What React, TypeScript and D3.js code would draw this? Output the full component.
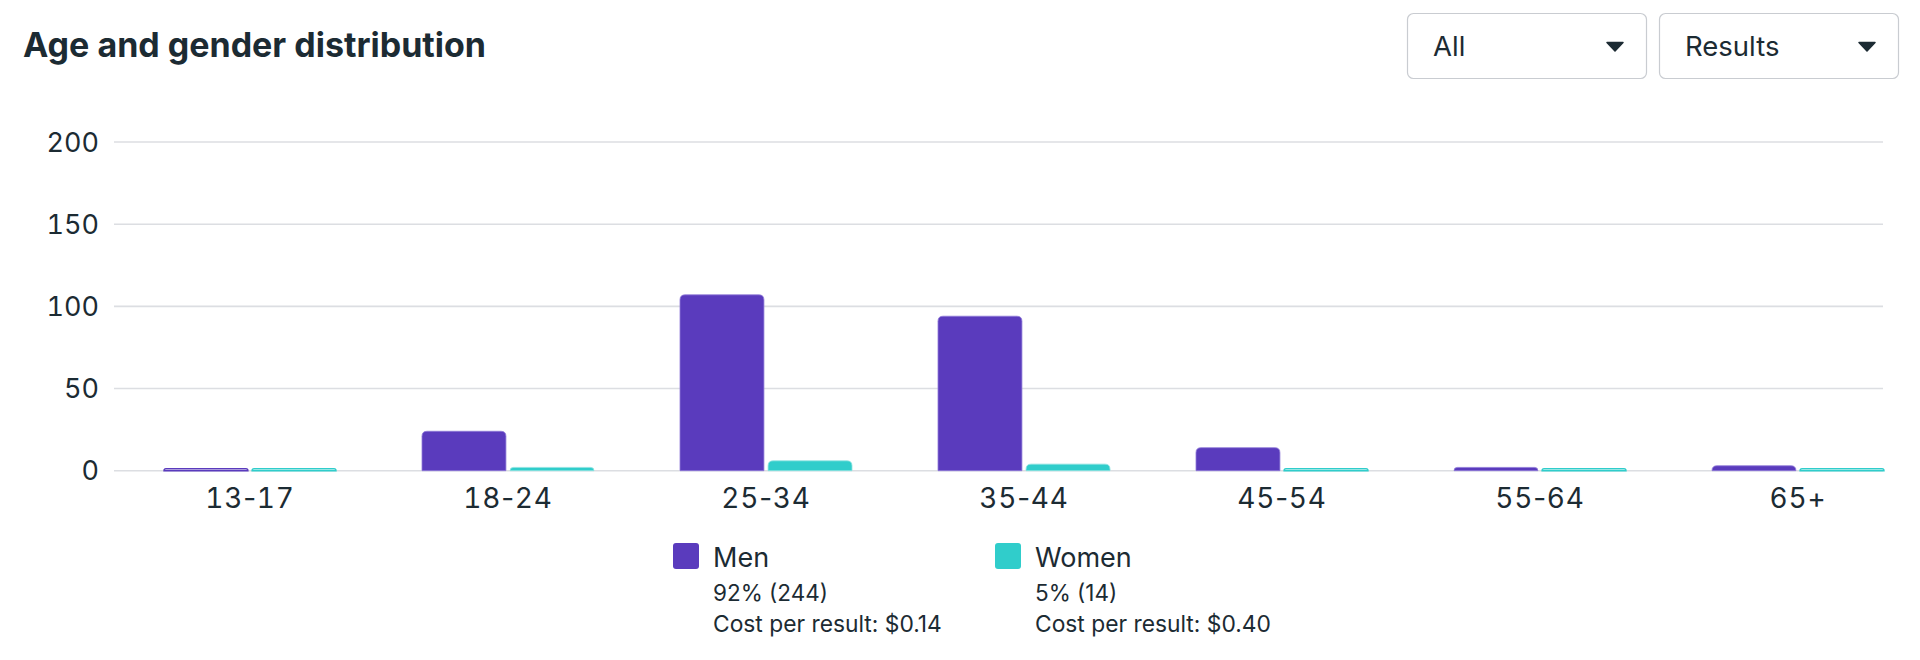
import * as d3 from "d3";

const ageGroups = ["13-17", "18-24", "25-34", "35-44", "45-54", "55-64", "65+"];
const menValues = [0, 24, 107, 94, 14, 2, 3];
const womenValues = [0, 2, 6, 4, 0, 0, 0];
const yTicks = [0, 50, 100, 150, 200];
const seriesKeys = ["men", "women"];
const legendItems = [
  { key: "men", label: "Men", share: "92% (244)", cost: "Cost per result: $0.14" },
  { key: "women", label: "Women", share: "5% (14)", cost: "Cost per result: $0.40" },
];
const dropdowns = ["All", "Results"];

const W = 1920;
const H = 660;
const FONT = "Inter, 'Noto Sans', sans-serif";
const TEXT = "#1c2b33";
const colors: Record<string, string> = { men: "#5a3bbd", women: "#30cdcb" };
const strokes: Record<string, string> = { men: "#8f7ad8", women: "#8fe3e1" };
const tnum = { fontVariantNumeric: "tabular-nums" as const };

// top-rounded bar path
function barPath(x: number, y: number, w: number, h: number, r: number) {
  const rr = Math.min(r, h, w / 2);
  return `M${x},${y + h}V${y + rr}Q${x},${y} ${x + rr},${y}H${x + w - rr}Q${x + w},${y} ${x + w},${y + rr}V${y + h}Z`;
}

// digits in tabular figures, the hyphen stays proportional
function ageLabel(g: string) {
  const parts = g.split("-");
  if (parts.length === 1) return <tspan style={tnum}>{g}</tspan>;
  return (
    <>
      <tspan style={tnum}>{parts[0]}</tspan>
      <tspan>-</tspan>
      <tspan style={tnum}>{parts[1]}</tspan>
    </>
  );
}

export default function App() {
  const gridLeft = 114;
  const gridRight = 1883;

  const y = d3.scaleLinear().domain([0, 200]).range([470.7, 142]);
  const x0 = d3.scaleBand<string>().domain(ageGroups).range([164, 1884]).paddingInner(1 / 3).paddingOuter(0);
  const x1 = d3.scaleBand<string>().domain(seriesKeys).range([0, x0.bandwidth()]).paddingInner(0.047);

  const valuesFor = (k: string) => (k === "men" ? menValues : womenValues);

  const legendX: Record<string, number> = { men: 673, women: 995 };

  return (
    <svg
      width={W}
      height={H}
      style={{ position: "absolute", left: 0, top: 0, display: "block", background: "#fff" }}
      fontFamily={FONT}
    >
      {/* title */}
      <text x={23} y={57} fontSize={34} fontWeight={700} fill={TEXT}>
        Age and gender distribution
      </text>

      {/* dropdowns */}
      {dropdowns.map((d, i) => {
        const bx = 1407 + i * 252;
        const bw = 239;
        const ax = bx + bw - 31;
        return (
          <g key={d}>
            <rect x={bx + 0.5} y={13.5} width={bw} height={65} rx={6} fill="#fff" stroke="#c9ccd1" strokeWidth={1.2} />
            <text x={bx + 26} y={56} fontSize={27.5} fill={TEXT}>
              {d}
            </text>
            <path d={`M${ax - 8},${42.5}L${ax + 8},${42.5}L${ax},${51}Z`} fill={TEXT} strokeLinejoin="round" stroke={TEXT} strokeWidth={1.5} />
          </g>
        );
      })}

      {/* grid + y labels */}
      {yTicks.map((t) => (
        <g key={t}>
          <line x1={gridLeft} x2={gridRight} y1={y(t)} y2={y(t)} stroke="#dcdee2" strokeWidth={1.6} />
          <text x={99} y={y(t)} dy="0.36em" textAnchor="end" fontSize={27} fill={TEXT} style={tnum}>
            {t}
          </text>
        </g>
      ))}

      {/* bars */}
      {ageGroups.map((g, gi) => (
        <g key={g} transform={`translate(${x0(g)},0)`}>
          {seriesKeys.map((k) => {
            const v = valuesFor(k)[gi];
            const top = Math.min(y(v), y(0) - 2);
            const h = y(0) - top;
            return (
              <path
                key={k}
                d={barPath(x1(k)!, top, x1.bandwidth(), h, 5)}
                fill={v > 0 ? colors[k] : "#fff"}
                stroke={v > 0 ? strokes[k] : colors[k]}
                strokeWidth={v > 0 ? 0.8 : 1.4}
              />
            );
          })}
          <text x={x0.bandwidth() / 2} y={508} textAnchor="middle" fontSize={28} letterSpacing={0.8} fill={TEXT}>
            {ageLabel(g)}
          </text>
        </g>
      ))}

      {/* legend */}
      {legendItems.map((l) => {
        const lx = legendX[l.key];
        return (
          <g key={l.key}>
            <rect x={lx} y={543} width={26} height={26} rx={3} fill={colors[l.key]} />
            <text x={lx + 40} y={567} fontSize={27} fill={TEXT}>
              {l.label}
            </text>
            <text x={lx + 40} y={601} fontSize={22.5} fill={TEXT}>
              {l.share}
            </text>
            <text x={lx + 40} y={632} fontSize={22.8} fill={TEXT}>
              {l.cost}
            </text>
          </g>
        );
      })}
    </svg>
  );
}
